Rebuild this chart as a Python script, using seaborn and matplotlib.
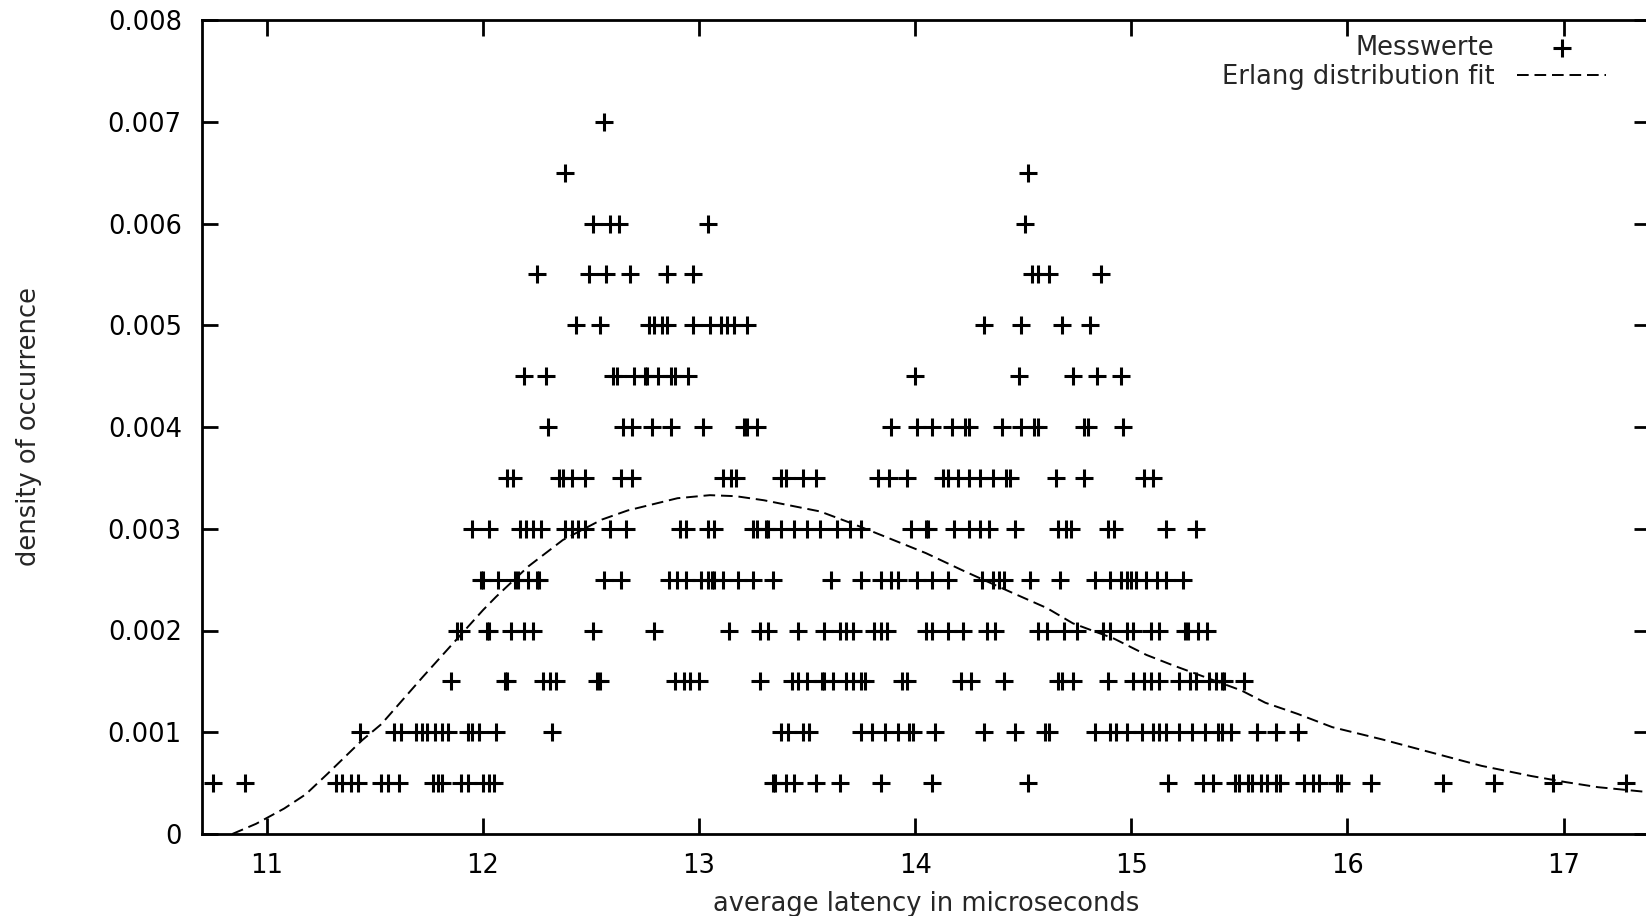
import matplotlib
matplotlib.use("Agg")
import matplotlib.pyplot as plt
import numpy as np
import pandas as pd
import seaborn as sns
from matplotlib.ticker import FuncFormatter, FixedLocator

# Measured densities: each level lists the latencies (µs) observed at that density
density_levels = [0.0005, 0.001, 0.0015, 0.002, 0.0025, 0.003, 0.0035,
                  0.004, 0.0045, 0.005, 0.0055, 0.006, 0.0065, 0.007]

latencies_per_level = [
    [10.75, 10.90, 11.32, 11.35, 11.39, 11.42, 11.53, 11.56, 11.61, 11.77, 11.79,
     11.81, 11.90, 11.93, 12.00, 12.03, 12.05, 13.34, 13.35, 13.40, 13.44, 13.54,
     13.65, 13.84, 14.08, 14.52, 15.17, 15.33, 15.38, 15.48, 15.50, 15.54, 15.56,
     15.60, 15.63, 15.67, 15.69, 15.80, 15.84, 15.87, 15.95, 15.97, 16.11, 16.44,
     16.68, 16.95, 17.29],
    [11.43, 11.59, 11.62, 11.69, 11.72, 11.74, 11.78, 11.81, 11.84, 11.93, 11.95,
     11.98, 12.06, 12.32, 13.38, 13.41, 13.48, 13.51, 13.75, 13.80, 13.86, 13.92,
     13.97, 13.99, 14.09, 14.32, 14.46, 14.60, 14.62, 14.83, 14.90, 14.93, 14.98,
     15.05, 15.10, 15.13, 15.16, 15.22, 15.28, 15.34, 15.40, 15.42, 15.46, 15.58,
     15.67, 15.77],
    [11.85, 12.10, 12.11, 12.28, 12.31, 12.34, 12.53, 12.54, 12.89, 12.93, 12.96,
     13.00, 13.28, 13.43, 13.46, 13.50, 13.57, 13.58, 13.62, 13.68, 13.71, 13.75,
     13.77, 13.94, 13.96, 14.21, 14.26, 14.41, 14.66, 14.68, 14.73, 14.89, 15.01,
     15.06, 15.09, 15.13, 15.22, 15.27, 15.30, 15.36, 15.39, 15.42, 15.43, 15.52],
    [11.88, 11.90, 12.02, 12.03, 12.13, 12.19, 12.23, 12.51, 12.79, 13.14, 13.28,
     13.32, 13.46, 13.58, 13.65, 13.68, 13.71, 13.81, 13.84, 13.87, 14.05, 14.08,
     14.15, 14.22, 14.33, 14.37, 14.57, 14.61, 14.69, 14.75, 14.87, 14.90, 14.98,
     15.01, 15.09, 15.13, 15.25, 15.26, 15.31, 15.35],
    [11.99, 12.00, 12.07, 12.15, 12.16, 12.21, 12.25, 12.26, 12.56, 12.64, 12.86,
     12.90, 12.94, 13.01, 13.04, 13.06, 13.07, 13.11, 13.18, 13.25, 13.34, 13.61,
     13.75, 13.84, 13.89, 13.92, 14.01, 14.08, 14.15, 14.31, 14.36, 14.39, 14.41,
     14.53, 14.67, 14.83, 14.90, 14.95, 14.98, 15.00, 15.02, 15.07, 15.12, 15.16,
     15.24],
    [11.95, 12.03, 12.17, 12.20, 12.23, 12.27, 12.38, 12.41, 12.44, 12.47, 12.59,
     12.66, 12.91, 12.94, 13.04, 13.07, 13.25, 13.27, 13.31, 13.32, 13.38, 13.44,
     13.50, 13.56, 13.64, 13.70, 13.75, 13.98, 14.05, 14.06, 14.18, 14.25, 14.30,
     14.34, 14.46, 14.66, 14.70, 14.72, 14.89, 14.92, 15.16, 15.30],
    [12.11, 12.14, 12.35, 12.37, 12.41, 12.47, 12.64, 12.69, 13.11, 13.15, 13.17,
     13.38, 13.40, 13.48, 13.54, 13.83, 13.88, 13.96, 14.13, 14.15, 14.20, 14.25,
     14.30, 14.36, 14.42, 14.44, 14.65, 14.78, 15.06, 15.10],
    [12.30, 12.65, 12.69, 12.78, 12.87, 13.02, 13.21, 13.22, 13.27, 13.89, 14.01,
     14.08, 14.17, 14.23, 14.25, 14.40, 14.49, 14.55, 14.57, 14.78, 14.80, 14.96],
    [12.19, 12.29, 12.60, 12.62, 12.70, 12.75, 12.76, 12.81, 12.87, 12.89, 12.95,
     14.00, 14.48, 14.73, 14.84, 14.95],
    [12.43, 12.54, 12.77, 12.79, 12.83, 12.85, 12.97, 13.05, 13.10, 13.13, 13.16,
     13.22, 14.32, 14.49, 14.68, 14.81],
    [12.25, 12.49, 12.57, 12.68, 12.85, 12.97, 14.54, 14.57, 14.62, 14.86],
    [12.51, 12.59, 12.63, 13.04, 14.51],
    [12.38, 14.52],
    [12.56],
]

# Erlang distribution fit curve
fit_latency = [10.84, 10.95, 11.08, 11.18, 11.28, 11.44, 11.53, 11.72, 11.86, 12.00,
               12.06, 12.21, 12.37, 12.55, 12.67, 12.90, 13.05, 13.17, 13.30, 13.56,
               13.71, 13.84, 14.05, 14.22, 14.45, 14.61, 14.73, 14.92, 15.07, 15.19,
               15.51, 15.62, 15.77, 15.93, 16.16, 16.39, 16.62, 16.85, 17.01, 17.16,
               17.40]
fit_density = [0.0, 0.00010, 0.00025, 0.00039, 0.00059, 0.00092, 0.00108, 0.00154,
               0.00187, 0.00220, 0.00233, 0.00263, 0.00289, 0.00309, 0.00318, 0.00330,
               0.00333, 0.00332, 0.00328, 0.00317, 0.00305, 0.00294, 0.00276, 0.00259,
               0.00237, 0.00222, 0.00207, 0.00192, 0.00176, 0.00166, 0.00141, 0.00129,
               0.00118, 0.00105, 0.00093, 0.00080, 0.00067, 0.00057, 0.00051, 0.00046,
               0.00041]

x_ticks = [11, 12, 13, 14, 15, 16, 17]
y_ticks = [0, 0.001, 0.002, 0.003, 0.004, 0.005, 0.006, 0.007, 0.008]

points = pd.DataFrame(
    [(lat, d) for d, lats in zip(density_levels, latencies_per_level) for lat in lats],
    columns=["latency", "density"],
)
fit = pd.DataFrame({"latency": fit_latency, "density": fit_density})

sns.set_style("ticks")
plt.rcParams["font.family"] = ["DejaVu Sans"]
FS = 18.5

W, H = 1646, 916
fig = plt.figure(figsize=(W / 100, H / 100), dpi=100)
# axes box in pixels: left 202, right 1650 (just past the edge), top 20, bottom 834
ax = fig.add_axes([202 / W, (H - 834) / H, 1448 / W, 814 / H])

sns.scatterplot(data=points, x="latency", y="density", ax=ax, marker="+",
                s=150, color="black", linewidth=2.2, label="Messwerte", legend=False)
sns.lineplot(data=fit, x="latency", y="density", ax=ax, color="black",
             linewidth=1.4, linestyle=(0, (6, 3)), sort=False, estimator=None,
             label="Erlang distribution fit", legend=False)

ax.set_xlim(10.7, 17.4)
ax.set_ylim(0, 0.008)
ax.xaxis.set_major_locator(FixedLocator(x_ticks))
ax.yaxis.set_major_locator(FixedLocator(y_ticks))
ax.yaxis.set_major_formatter(FuncFormatter(lambda v, _: "0" if v == 0 else f"{v:.3f}"))

for side in ["left", "right", "top", "bottom"]:
    ax.spines[side].set_visible(True)
    ax.spines[side].set_linewidth(2)
    ax.spines[side].set_color("black")

ax.tick_params(axis="both", direction="in", length=11.5, width=2, colors="black",
               labelsize=FS, top=True, right=True)
ax.tick_params(axis="x", pad=13.5)
ax.tick_params(axis="y", pad=14.5)

ax.set_xlabel("average latency in microseconds", fontsize=FS, va="center")
ax.xaxis.set_label_coords(0.5, -(904 - 834) / 814)
ax.set_ylabel("density of occurrence", fontsize=FS, va="center")
ax.yaxis.set_label_coords((29 - 202) / 1448, 0.5)

handles, labels = ax.get_legend_handles_labels()
ax.legend(handles, labels, loc="upper right",
          bbox_to_anchor=((1606 - 202) / 1448, 1 - (35 - 20) / 814),
          bbox_transform=ax.transAxes, frameon=False, markerfirst=False,
          fontsize=FS, handlelength=3.45, handletextpad=0.9, labelspacing=0.12,
          borderpad=0, borderaxespad=0, scatterpoints=1)

fig.savefig("out.png", dpi=100, facecolor="white")
